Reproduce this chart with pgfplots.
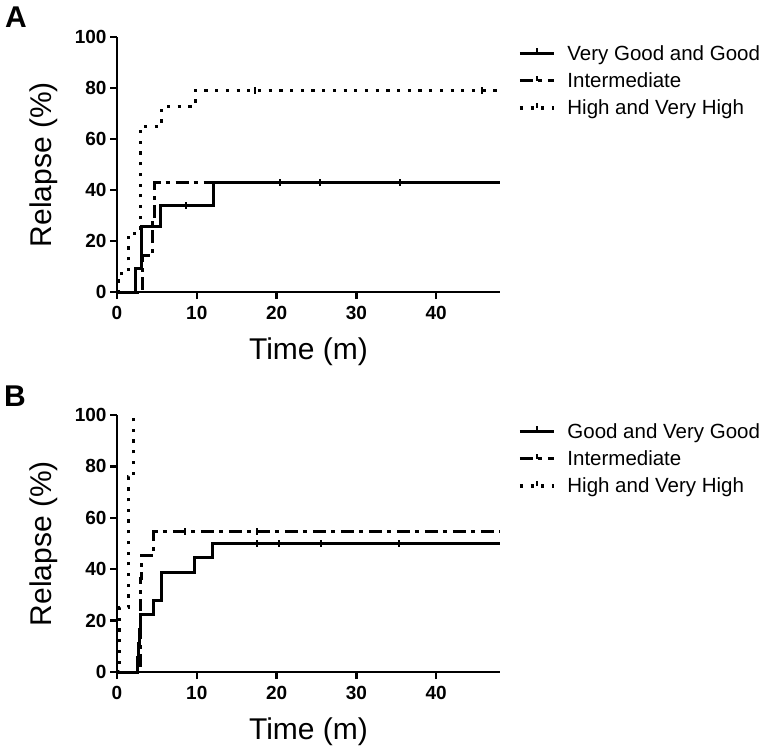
\documentclass[border=0pt]{standalone}
\usepackage{pgfplots}
\pgfplotsset{compat=1.18}
\usepackage{fontspec}
\setmainfont{Liberation Sans}

\tikzset{
 sol/.style={line width=3pt},
 dd/.style={line width=3pt, dash pattern=on 13pt off 5pt on 4pt off 6pt},
 dt/.style={line width=3.2pt, dash pattern=on 3.2pt off 7.5pt},
}

\pgfplotsset{
 km/.style={
  scale only axis, width=383pt,
  xmin=0, xmax=48, ymin=0, ymax=100,
  axis lines=left, axis line style={-, line width=2.8pt},
  xtick={0,10,20,30,40}, ytick={0,20,...,100},
  tick align=outside, major tick length=7pt,
  every tick/.style={line width=2.5pt, black},
  tick label style={font=\bfseries\fontsize{19}{19}\selectfont},
  xticklabel style={yshift=-4pt},
  /pgf/number format/assume math mode=true,
  xlabel={Time (m)}, ylabel={Relapse (\%)},
  every axis x label/.style={at={(rel axis cs:0.5,0)}, anchor=north, yshift=-45.5pt,
    font=\fontsize{30}{30}\selectfont, inner sep=0pt},
  every axis y label/.style={at={(rel axis cs:-0.1554,0.5)}, rotate=90, anchor=south,
    font=\fontsize{30}{30}\selectfont, inner sep=0pt},
  clip=false,
  legend cell align=left,
  legend style={draw=none, fill=none, at={(rel axis cs:1,1)}, anchor=north west,
    xshift=15pt, yshift=-4pt, font=\fontsize{20.5}{24}\selectfont, row sep=7pt},
  legend image code/.code={\draw[#1] (0pt,0pt) -- (34pt,0pt); \draw[line width=2pt,solid] (17pt,0pt) -- (17pt,5pt); \path (44pt,0pt);},
 }
}

\begin{document}
\begin{tikzpicture}
\useasboundingbox (0,0) rectangle (771pt,-755pt);
\node[anchor=north west, inner sep=0pt, font=\bfseries\fontsize{30}{30}\selectfont] at (5pt,-7pt) {A};
\node[anchor=north west, inner sep=0pt, font=\bfseries\fontsize{30}{30}\selectfont] at (4pt,-386pt) {B};

\begin{axis}[km, height=255pt, at={(117pt,-292pt)}, anchor=south west]
\addplot[sol] coordinates {(0,0)(2.3,0)(2.3,9.1)(3.1,9.1)(3.1,25.5)(5.4,25.5)(5.4,33.8)(12.1,33.8)(12.1,42.9)(48,42.9)};
\addlegendentry{Very Good and Good}
\addplot[dd] coordinates {(0,0)(3.2,0)(3.2,14.3)(4.4,14.3)(4.4,28.6)(4.7,28.6)(4.7,42.9)(48,42.9)};
\addlegendentry{Intermediate}
\addplot[dt] coordinates {(0,0)(0.2,0)(0.2,4.3)(0.6,4.3)(0.6,8.7)(1.4,8.7)(1.4,23)(2.9,23)(2.9,65)(5.6,65)(5.6,72.7)(9.8,72.7)(9.8,79)(48,79)};
\addlegendentry{High and Very High}
\addplot[only marks, mark=|, mark size=3.5pt, mark options={line width=2pt}, forget plot] coordinates {(8.7,33.8)(20.4,42.9)(25.5,42.9)(35.5,42.9)(17.3,79)(45.8,79)};
\end{axis}

\begin{axis}[km, height=257pt, at={(117pt,-672pt)}, anchor=south west]
\addplot[sol] coordinates {(0,0)(2.6,0)(2.6,5.6)(2.7,5.6)(2.7,11.1)(2.8,11.1)(2.8,16.7)(3.0,16.7)(3.0,22.2)(4.6,22.2)(4.6,27.8)(5.6,27.8)(5.6,38.9)(9.7,38.9)(9.7,44.4)(12.0,44.4)(12.0,50)(48,50)};
\addlegendentry{Good and Very Good}
\addplot[dd] coordinates {(0,0)(2.9,0)(2.9,27.3)(3.0,27.3)(3.0,36.4)(3.1,36.4)(3.1,45.5)(4.6,45.5)(4.6,54.5)(48,54.5)};
\addlegendentry{Intermediate}
\addplot[dt] coordinates {(0,0)(0.3,0)(0.3,25)(1.4,25)(1.4,76)(2.1,76)(2.1,100)};
\addlegendentry{High and Very High}
\addplot[only marks, mark=|, mark size=3.5pt, mark options={line width=2pt}, forget plot] coordinates {(17.5,50)(20.3,50)(25.6,50)(35.4,50)(8.5,54.5)(17.5,54.5)};
\end{axis}
\end{tikzpicture}
\end{document}
